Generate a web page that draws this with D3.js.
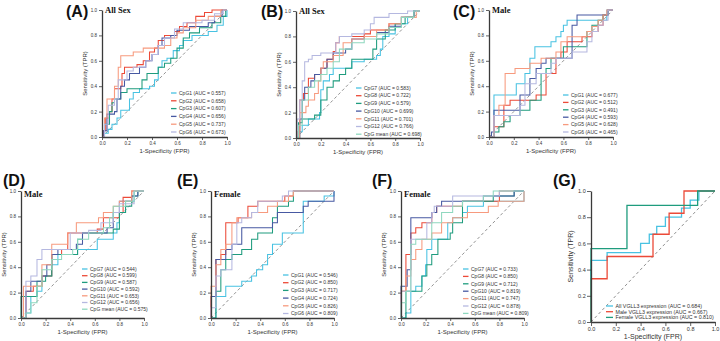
<!doctype html>
<html lang="en">
  <head>
    <meta charset="UTF-8" />
    <title>ROC curves</title>
    <style>
      body {
        margin: 0;
        background: #fff;
      }
      svg {
        display: block;
        font-family: "Liberation Sans", Arial, sans-serif;
      }
    </style>
  </head>
  <body>
    <script src="https://d3js.org/d3.v7.min.js"></script>
    <script>
      // shared tick values and palette
      const ticks = [0, 0.2, 0.4, 0.6, 0.8, 1.0];
      const palette = ["#48c2e2", "#ec4a38", "#1f9c7e", "#4759a2", "#f79a7e", "#b5b8e0", "#8fd8bf"];

      // (A) All Sex, CpG1-6
      const namesA = ["CpG1", "CpG2", "CpG3", "CpG4", "CpG5", "CpG6"];
      const aucA = ["0.557", "0.658", "0.607", "0.656", "0.737", "0.673"];
      const rocA = [
        [[0,0],[0.02,0.03],[0.05,0.06],[0.08,0.1],[0.12,0.15],[0.15,0.21],[0.22,0.3],[0.25,0.35],[0.3,0.38],[0.38,0.4],[0.42,0.45],[0.45,0.55],[0.48,0.6],[0.52,0.62],[0.57,0.68],[0.62,0.72],[0.65,0.76],[0.72,0.8],[0.85,0.83],[0.92,0.88],[0.97,0.95],[1,1]],
        [[0,0],[0.01,0.05],[0.03,0.15],[0.06,0.2],[0.08,0.3],[0.1,0.38],[0.15,0.4],[0.16,0.5],[0.18,0.55],[0.28,0.57],[0.33,0.6],[0.38,0.67],[0.42,0.7],[0.45,0.76],[0.5,0.8],[0.58,0.83],[0.62,0.87],[0.68,0.9],[0.75,0.95],[0.82,0.98],[0.88,1],[1,1]],
        [[0,0],[0.02,0.1],[0.06,0.2],[0.08,0.27],[0.1,0.3],[0.15,0.35],[0.2,0.38],[0.32,0.45],[0.36,0.5],[0.45,0.55],[0.5,0.58],[0.55,0.62],[0.6,0.7],[0.65,0.78],[0.7,0.82],[0.78,0.86],[0.88,0.9],[0.95,0.95],[0.99,1],[1,1]],
        [[0,0],[0.01,0.05],[0.04,0.18],[0.1,0.2],[0.12,0.3],[0.15,0.4],[0.18,0.45],[0.22,0.5],[0.3,0.55],[0.35,0.6],[0.4,0.65],[0.45,0.72],[0.48,0.78],[0.55,0.8],[0.6,0.84],[0.7,0.87],[0.85,0.9],[0.9,0.95],[0.96,1],[1,1]],
        [[0,0],[0.02,0.15],[0.04,0.3],[0.1,0.4],[0.13,0.55],[0.15,0.64],[0.25,0.67],[0.33,0.7],[0.5,0.72],[0.55,0.78],[0.6,0.82],[0.65,0.86],[0.75,0.92],[0.85,0.95],[0.95,1],[1,1]],
        [[0,0],[0.02,0.1],[0.05,0.25],[0.1,0.3],[0.13,0.45],[0.2,0.52],[0.25,0.55],[0.35,0.6],[0.4,0.65],[0.45,0.72],[0.5,0.78],[0.58,0.85],[0.65,0.9],[0.8,0.92],[0.9,0.97],[0.97,1],[1,1]],
      ];

      // (B) All Sex, CpG7-12 + mean
      const namesB = ["CpG7", "CpG8", "CpG9", "CpG10", "CpG11", "CpG12", "CpG mean"];
      const aucB = ["0.583", "0.722", "0.579", "0.699", "0.701", "0.766", "0.698"];
      const rocB = [
        [[0,0],[0.03,0.05],[0.05,0.1],[0.1,0.15],[0.19,0.2],[0.2,0.38],[0.22,0.45],[0.27,0.5],[0.3,0.55],[0.45,0.6],[0.55,0.62],[0.65,0.65],[0.68,0.7],[0.7,0.8],[0.75,0.82],[0.8,0.9],[0.9,0.95],[0.95,1],[1,1]],
        [[0,0],[0.01,0.05],[0.03,0.3],[0.06,0.35],[0.1,0.47],[0.15,0.5],[0.2,0.55],[0.25,0.62],[0.3,0.68],[0.32,0.75],[0.35,0.8],[0.55,0.82],[0.6,0.85],[0.75,0.9],[0.85,0.95],[0.95,1],[1,1]],
        [[0,0],[0.02,0.12],[0.05,0.15],[0.15,0.18],[0.2,0.3],[0.25,0.4],[0.3,0.45],[0.35,0.5],[0.4,0.55],[0.45,0.62],[0.62,0.7],[0.65,0.78],[0.72,0.85],[0.8,0.9],[0.88,0.95],[0.95,1],[1,1]],
        [[0,0],[0.03,0.15],[0.05,0.3],[0.07,0.4],[0.12,0.45],[0.15,0.5],[0.2,0.55],[0.25,0.62],[0.3,0.67],[0.4,0.7],[0.45,0.78],[0.55,0.8],[0.65,0.83],[0.75,0.88],[0.85,0.95],[0.95,1],[1,1]],
        [[0,0],[0.03,0.2],[0.08,0.25],[0.1,0.3],[0.15,0.35],[0.18,0.45],[0.2,0.55],[0.22,0.6],[0.3,0.65],[0.38,0.75],[0.45,0.78],[0.55,0.8],[0.65,0.85],[0.75,0.9],[0.85,0.95],[0.97,1],[1,1]],
        [[0,0],[0.01,0.15],[0.03,0.3],[0.05,0.45],[0.07,0.6],[0.1,0.62],[0.13,0.65],[0.2,0.67],[0.32,0.75],[0.35,0.8],[0.45,0.82],[0.55,0.85],[0.6,0.9],[0.63,0.95],[0.75,0.98],[0.9,1],[1,1]],
        [[0,0],[0.02,0.1],[0.05,0.3],[0.1,0.4],[0.15,0.45],[0.2,0.5],[0.25,0.55],[0.3,0.6],[0.35,0.7],[0.45,0.75],[0.55,0.78],[0.65,0.82],[0.75,0.87],[0.85,0.95],[0.95,1],[1,1]],
      ];

      // (C) Male, CpG1-6
      const namesC = ["CpG1", "CpG2", "CpG3", "CpG4", "CpG5", "CpG6"];
      const aucC = ["0.677", "0.512", "0.491", "0.593", "0.628", "0.465"];
      const rocC = [
        [[0,0],[0.04,0.33],[0.22,0.42],[0.29,0.5],[0.33,0.62],[0.37,0.71],[0.5,0.75],[0.54,0.79],[0.58,0.83],[0.6,0.88],[0.63,0.92],[0.95,1],[1,1]],
        [[0,0],[0.04,0.08],[0.12,0.12],[0.12,0.25],[0.17,0.29],[0.38,0.33],[0.46,0.38],[0.46,0.5],[0.54,0.62],[0.58,0.67],[0.63,0.75],[0.75,0.79],[0.83,0.83],[0.88,0.88],[0.92,0.96],[0.96,1],[1,1]],
        [[0,0],[0.04,0.04],[0.08,0.08],[0.12,0.12],[0.17,0.17],[0.25,0.21],[0.33,0.29],[0.42,0.5],[0.46,0.54],[0.5,0.62],[0.6,0.71],[0.79,0.83],[0.83,0.88],[0.88,0.92],[0.92,0.96],[0.96,1],[1,1]],
        [[0,0],[0.02,0.04],[0.04,0.21],[0.25,0.33],[0.33,0.46],[0.38,0.54],[0.42,0.58],[0.46,0.62],[0.67,0.88],[0.71,0.96],[0.96,1],[1,1]],
        [[0,0],[0.04,0.17],[0.08,0.25],[0.13,0.5],[0.21,0.54],[0.33,0.58],[0.42,0.62],[0.54,0.67],[0.58,0.75],[0.63,0.79],[0.79,0.83],[0.83,0.87],[0.88,0.92],[0.92,0.96],[0.95,1],[1,1]],
        [[0,0],[0.04,0.17],[0.25,0.25],[0.29,0.42],[0.38,0.5],[0.5,0.58],[0.54,0.62],[0.67,0.67],[0.79,0.75],[0.83,0.83],[0.88,0.88],[0.92,0.92],[0.96,1],[1,1]],
      ];

      // (D) Male, CpG7-12 + mean
      const namesD = ["CpG7", "CpG8", "CpG9", "CpG10", "CpG11", "CpG12", "CpG mean"];
      const aucD = ["0.544", "0.599", "0.587", "0.592", "0.653", "0.656", "0.575"];
      const rocD = [
        [[0,0],[0.04,0.04],[0.08,0.17],[0.13,0.21],[0.17,0.33],[0.25,0.42],[0.3,0.5],[0.46,0.54],[0.62,0.62],[0.75,0.67],[0.78,0.75],[0.8,0.83],[0.85,0.92],[0.92,1],[1,1]],
        [[0,0],[0.04,0.21],[0.1,0.25],[0.17,0.33],[0.25,0.5],[0.33,0.54],[0.38,0.67],[0.62,0.7],[0.67,0.79],[0.8,0.83],[0.83,0.95],[0.9,1],[1,1]],
        [[0,0],[0,0.17],[0.04,0.17],[0.13,0.29],[0.2,0.33],[0.25,0.5],[0.46,0.62],[0.5,0.67],[0.75,0.7],[0.8,0.83],[0.85,0.88],[0.9,0.96],[0.95,1],[1,1]],
        [[0,0],[0.04,0.21],[0.08,0.29],[0.17,0.33],[0.21,0.42],[0.25,0.5],[0.3,0.54],[0.45,0.58],[0.5,0.67],[0.7,0.71],[0.75,0.83],[0.8,0.92],[0.9,0.96],[0.95,1],[1,1]],
        [[0,0],[0.02,0.25],[0.17,0.42],[0.25,0.58],[0.38,0.67],[0.45,0.75],[0.63,0.79],[0.67,0.83],[0.75,0.88],[0.8,0.92],[0.9,1],[1,1]],
        [[0,0],[0.04,0.29],[0.08,0.33],[0.13,0.46],[0.17,0.54],[0.4,0.67],[0.55,0.69],[0.65,0.75],[0.75,0.83],[0.8,0.9],[0.92,1],[1,1]],
        [[0,0],[0.04,0.04],[0.08,0.12],[0.13,0.25],[0.17,0.38],[0.25,0.46],[0.33,0.5],[0.42,0.54],[0.46,0.62],[0.55,0.67],[0.67,0.71],[0.72,0.79],[0.75,0.88],[0.85,0.92],[0.92,1],[1,1]],
      ];

      // (E) Female, CpG1-6
      const namesE = ["CpG1", "CpG2", "CpG3", "CpG4", "CpG5", "CpG6"];
      const aucE = ["0.546", "0.850", "0.717", "0.724", "0.826", "0.809"];
      const rocE = [
        [[0,0],[0.04,0.17],[0.12,0.25],[0.25,0.29],[0.33,0.33],[0.37,0.38],[0.42,0.42],[0.46,0.5],[0.5,0.58],[0.58,0.67],[0.75,0.71],[0.75,0.92],[0.92,0.96],[1,1]],
        [[0,0],[0,0.17],[0.04,0.46],[0.08,0.5],[0.12,0.75],[0.22,0.79],[0.3,0.88],[0.38,0.92],[0.6,0.96],[0.67,1],[1,1]],
        [[0,0],[0.04,0.21],[0.08,0.38],[0.12,0.46],[0.17,0.5],[0.25,0.54],[0.33,0.62],[0.38,0.67],[0.5,0.79],[0.54,0.88],[0.63,0.92],[0.67,1],[1,1]],
        [[0,0],[0,0.17],[0.04,0.46],[0.12,0.54],[0.17,0.58],[0.25,0.71],[0.5,0.75],[0.54,0.83],[0.75,0.88],[0.79,0.92],[1,1]],
        [[0,0],[0,0.25],[0.04,0.42],[0.08,0.54],[0.12,0.58],[0.17,0.75],[0.21,0.79],[0.33,0.83],[0.46,0.88],[0.54,0.92],[0.63,0.96],[0.67,1],[1,1]],
        [[0,0],[0,0.08],[0.04,0.33],[0.08,0.38],[0.17,0.58],[0.21,0.75],[0.25,0.79],[0.33,0.83],[0.38,0.92],[0.58,0.96],[0.63,1],[1,1]],
      ];

      // (F) Female, CpG7-12 + mean
      const namesF = ["CpG7", "CpG8", "CpG9", "CpG10", "CpG11", "CpG12", "CpG mean"];
      const aucF = ["0.733", "0.850", "0.712", "0.819", "0.747", "0.878", "0.809"];
      const rocF = [
        [[0,0],[0.04,0.04],[0.08,0.21],[0.12,0.25],[0.17,0.33],[0.2,0.42],[0.21,0.54],[0.25,0.62],[0.38,0.75],[0.42,0.79],[0.5,0.83],[0.54,0.88],[0.67,0.92],[1,1]],
        [[0,0],[0,0.21],[0.04,0.5],[0.08,0.67],[0.12,0.71],[0.17,0.75],[0.25,0.83],[0.29,0.88],[0.5,0.92],[0.8,1],[1,1]],
        [[0,0],[0.04,0.21],[0.17,0.33],[0.21,0.42],[0.25,0.5],[0.3,0.62],[0.4,0.67],[0.42,0.75],[0.5,0.92],[0.75,0.96],[0.92,1],[1,1]],
        [[0,0],[0,0.25],[0.05,0.38],[0.08,0.79],[0.25,0.83],[0.29,0.88],[0.33,0.92],[0.67,0.96],[0.92,1],[1,1]],
        [[0,0],[0,0.21],[0.04,0.33],[0.08,0.46],[0.12,0.54],[0.17,0.62],[0.25,0.67],[0.33,0.75],[0.42,0.79],[0.54,0.83],[0.71,0.88],[0.79,0.92],[1,1]],
        [[0,0],[0,0.21],[0.08,0.62],[0.21,0.75],[0.25,0.83],[0.27,0.88],[0.42,0.96],[0.8,1],[1,1]],
        [[0,0],[0,0.12],[0.04,0.21],[0.08,0.58],[0.12,0.62],[0.25,0.75],[0.33,0.83],[0.42,0.88],[0.5,0.92],[0.67,0.96],[0.75,1],[1,1]],
      ];

      // (G) VGLL3 expression
      const namesG = ["All VGLL3 expression", "Male VGLL3 expression", "Female VGLL3 expression"];
      const aucG = ["0.684", "0.667", "0.810"];
      const rocG = [
        [[0,0],[0,0.47],[0.13,0.53],[0.4,0.6],[0.47,0.67],[0.53,0.73],[0.6,0.8],[0.73,0.87],[0.8,0.93],[0.87,1],[1,1]],
        [[0,0],[0,0.33],[0.13,0.5],[0.5,0.67],[0.63,0.83],[0.75,1],[1,1]],
        [[0,0],[0,0.56],[0.29,0.89],[0.86,1],[1,1]],
      ];

      // layout of each panel (pixel boxes, fonts, legend placement)
      const small = { tickFont: 4.5, titleFont: 6, legendFont: 5, tick: 3, pad: 1.5, xTitleDy: 16, yTitleDx: 17 };
      const panels = [
        { tag: "(A)", tagX: 66, tagY: 17, title: "All Sex", names: namesA, auc: aucA, roc: rocA, colors: [0, 1, 2, 3, 4, 5],
          left: 102, right: 227, top: 10, bottom: 137, legX: 171, legY: 93, legDy: 7.8, ...small },
        { tag: "(B)", tagX: 261, tagY: 17, title: "All Sex", names: namesB, auc: aucB, roc: rocB, colors: [0, 1, 2, 3, 4, 5, 6],
          left: 296, right: 420, top: 11, bottom: 138, legX: 356, legY: 88, legDy: 7.7, ...small },
        { tag: "(C)", tagX: 453, tagY: 17, title: "Male", names: namesC, auc: aucC, roc: rocC, colors: [0, 1, 2, 3, 4, 5],
          left: 489, right: 613, top: 10, bottom: 137, legX: 563, legY: 95, legDy: 7.4, ...small },
        { tag: "(D)", tagX: 3, tagY: 186, title: "Male", names: namesD, auc: aucD, roc: rocD, colors: [0, 1, 2, 3, 4, 5, 6],
          left: 21, right: 144, top: 191, bottom: 318, legX: 82, legY: 269, legDy: 6.7, titleDy: 6, ...small },
        { tag: "(E)", tagX: 177, tagY: 186, title: "Female", names: namesE, auc: aucE, roc: rocE, colors: [0, 1, 2, 3, 4, 5],
          left: 211, right: 334, top: 191, bottom: 318, legX: 283, legY: 275, legDy: 7.7, titleDy: 6, ...small },
        { tag: "(F)", tagX: 372, tagY: 186, title: "Female", names: namesF, auc: aucF, roc: rocF, colors: [0, 1, 2, 3, 4, 5, 6],
          left: 401, right: 524, top: 191, bottom: 318, legX: 463, legY: 269, legDy: 7.4, titleDy: 6, ...small },
        { tag: "(G)", tagX: 553, tagY: 186, title: "", names: namesG, auc: aucG, roc: rocG, colors: [0, 1, 2],
          left: 591, right: 715, top: 191, bottom: 322, legX: 606, legY: 306, legDy: 5.7,
          tickFont: 5.5, titleFont: 7, legendFont: 5.3, tick: 4, pad: 0.8, xTitleDy: 17.3, yTitleDx: 20, legLen: 7, lineW: 1.3 },
      ];

      const svg = d3
        .select("body")
        .append("svg")
        .attr("width", 720)
        .attr("height", 341);
      svg.append("rect").attr("width", 720).attr("height", 341).attr("fill", "#fff");

      const fmt = d3.format(".1f");

      function drawPanel(p) {
        const x = d3.scaleLinear().domain([0, 1]).range([p.left, p.right]);
        const y = d3.scaleLinear().domain([0, 1]).range([p.bottom, p.top]);
        const g = svg.append("g");

        // chance line
        g.append("line")
          .attr("x1", x(0)).attr("y1", y(0))
          .attr("x2", x(1)).attr("y2", y(1))
          .attr("stroke", "#777")
          .attr("stroke-width", 0.8)
          .attr("stroke-dasharray", "3,2.5");

        const line = d3
          .line()
          .x((d) => x(d[0]))
          .y((d) => y(d[1]))
          .curve(d3.curveStepAfter);

        p.roc.forEach((pts, i) => {
          g.append("path")
            .attr("d", line(pts))
            .attr("fill", "none")
            .attr("stroke", palette[p.colors[i]])
            .attr("stroke-width", p.lineW || 1.05);
        });

        // axes
        const xAxis = g
          .append("g")
          .attr("transform", `translate(0,${p.bottom})`)
          .call(d3.axisBottom(x).tickValues(ticks).tickFormat(fmt).tickSize(p.tick).tickSizeOuter(0).tickPadding(p.pad));
        const yAxis = g
          .append("g")
          .attr("transform", `translate(${p.left},0)`)
          .call(d3.axisLeft(y).tickValues(ticks).tickFormat(fmt).tickSize(p.tick).tickSizeOuter(0).tickPadding(p.pad + 0.5));
        [xAxis, yAxis].forEach((a) => {
          a.select(".domain").attr("stroke", "#3a3a3a").attr("stroke-width", 1.3);
          a.selectAll(".tick line").attr("stroke", "#3a3a3a").attr("stroke-width", 0.8);
          a.selectAll(".tick text")
            .attr("fill", "#333")
            .style("font-size", p.tickFont + "px")
            .style("font-family", "'Liberation Sans', Arial, sans-serif");
        });

        // axis titles
        g.append("text")
          .attr("x", (p.left + p.right) / 2)
          .attr("y", p.bottom + p.xTitleDy)
          .attr("text-anchor", "middle")
          .style("font-size", p.titleFont + "px")
          .attr("fill", "#333")
          .text("1-Specificity (FPR)");
        g.append("text")
          .attr("transform", `translate(${p.left - p.yTitleDx},${(p.top + p.bottom) / 2}) rotate(-90)`)
          .attr("text-anchor", "middle")
          .attr("dy", "0.35em")
          .style("font-size", p.titleFont + "px")
          .attr("fill", "#333")
          .text("Sensitivity (TPR)");

        // subgroup title
        if (p.title) {
          g.append("text")
            .attr("x", p.left + 3)
            .attr("y", p.top + (p.titleDy || 3))
            .style("font-family", "'Liberation Serif', 'Times New Roman', serif")
            .style("font-weight", "bold")
            .style("font-size", "8.5px")
            .attr("fill", "#111")
            .text(p.title);
        }

        // panel tag
        svg.append("text")
          .attr("x", p.tagX)
          .attr("y", p.tagY)
          .style("font-weight", "bold")
          .style("font-size", "16px")
          .attr("fill", "#111")
          .text(p.tag);

        // legend
        const len = p.legLen || 5.5;
        p.names.forEach((n, i) => {
          const ly = p.legY + i * p.legDy;
          g.append("line")
            .attr("x1", p.legX).attr("x2", p.legX + len)
            .attr("y1", ly).attr("y2", ly)
            .attr("stroke", palette[p.colors[i]])
            .attr("stroke-width", 1.3);
          g.append("text")
            .attr("x", p.legX + len + 2.5)
            .attr("y", ly)
            .attr("dy", "0.35em")
            .style("font-size", p.legendFont + "px")
            .attr("fill", "#333")
            .text(`${n} (AUC = ${p.auc[i]})`);
        });
      }

      panels.forEach(drawPanel);
    </script>
  </body>
</html>
